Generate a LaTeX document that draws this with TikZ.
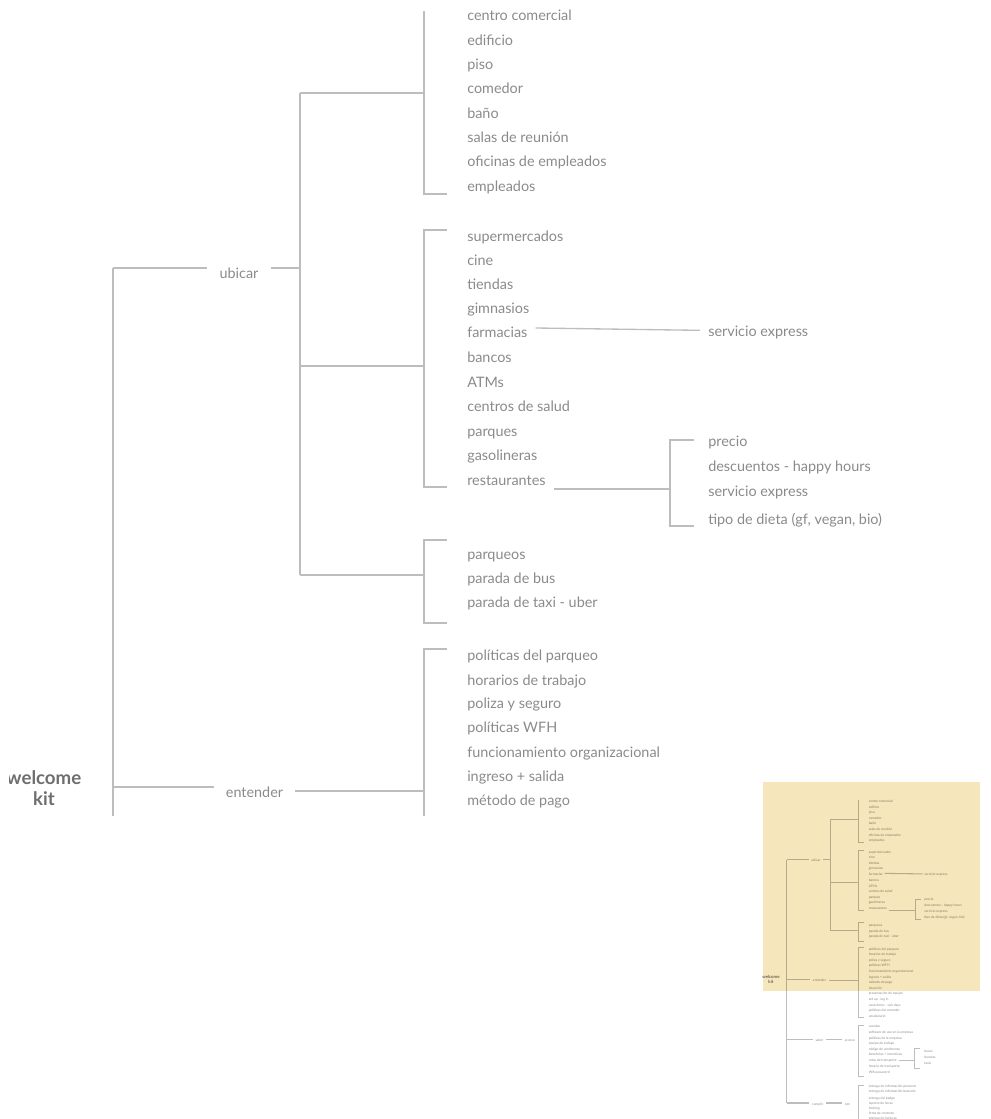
\documentclass[tikz,border=0pt]{standalone}
\usepackage{fontspec}
\setmainfont{Lato}
\definecolor{txt}{HTML}{8A8A8A}
\definecolor{ln}{HTML}{BDBDBD}
\definecolor{kitc}{HTML}{6E6E6E}
\definecolor{hl}{HTML}{F6E6BC}
\newif\ifwkfull
\tikzset{
  conn/.style={draw=ln, line width=1pt},
  item/.style={anchor=west, inner xsep=6pt, inner ysep=0pt, text height=9pt, text depth=1pt, font=\fontsize{10.8}{13}\selectfont, text=txt},
  lvl/.style={inner xsep=9pt, inner ysep=0pt, text height=9pt, text depth=1pt, font=\fontsize{10.8}{13}\selectfont, text=txt},
  rootn/.style={align=center, inner sep=0pt, font=\bfseries\fontsize{14}{15.75}\selectfont, text=kitc}
}
\newcommand{\wkitem}[3]{\node[item] (#1) at (459,#2) {#3};}
\newcommand{\wksub}[3]{\node[item] (#1) at (700,#2) {#3};}
\newcommand{\wktree}{%
  \node[rootn] (root) at (44,788) {welcome\\kit};
  \coordinate (rt) at (113,268);
  \coordinate (rb) at (113,1322);
  \draw[conn] (rt) -- (rb);
  % ---- ubicar
  \node[lvl] (ubicar) at (239,273) {ubicar};
  \coordinate (ub) at (300,268);
  \draw[conn] (rt) -- (ubicar.west|-rt);
  \draw[conn] (ubicar.east|-ub) -- (ub);
  \coordinate (u1) at (300,93);
  \coordinate (u3) at (300,575);
  \draw[conn] (u1) -- (u3);
  \coordinate (g1c) at (424,93);
  \coordinate (g2c) at (424,366);
  \coordinate (g3c) at (424,575);
  \draw[conn] (u1) -- (g1c);
  \draw[conn] (ub|-g2c) -- (g2c);
  \draw[conn] (u3) -- (g3c);
  \draw[conn] (424,11) -- (424,194) -- (447,194);
  \draw[conn] (447,230) -- (424,230) -- (424,487) -- (447,487);
  \draw[conn] (447,540) -- (424,540) -- (424,623) -- (447,623);
  \wkitem{a1}{15}{centro comercial}
  \wkitem{a2}{40}{edificio}
  \wkitem{a3}{64}{piso}
  \wkitem{a4}{88}{comedor}
  \wkitem{a5}{113}{baño}
  \wkitem{a6}{137}{salas de reunión}
  \wkitem{a7}{161}{oficinas de empleados}
  \wkitem{a8}{186}{empleados}
  \wkitem{b1}{236}{supermercados}
  \wkitem{b2}{260}{cine}
  \wkitem{b3}{284}{tiendas}
  \wkitem{b4}{308}{gimnasios}
  \wkitem{farm}{332}{farmacias}
  \wkitem{b6}{357}{bancos}
  \wkitem{b7}{382}{ATMs}
  \wkitem{b8}{406}{centros de salud}
  \wkitem{b9}{431}{parques}
  \wkitem{b10}{455}{gasolineras}
  \wkitem{rest}{480}{restaurantes}
  \wkitem{c1}{554}{parqueos}
  \wkitem{c2}{578}{parada de bus}
  \wkitem{c3}{602}{parada de taxi - uber}
  % farmacias
  \wksub{fx}{331}{servicio express}
  \draw[conn] ([yshift=3pt]farm.east) -- ([yshift=0.5pt]fx.west);
  % restaurantes
  \coordinate (rj) at (670,489);
  \draw[conn] (rest.east|-rj) -- (rj);
  \draw[conn] (694,440) -- (670,440) -- (670,526) -- (694,526);
  \wksub{r1}{441}{precio}
  \wksub{r2}{466}{descuentos - happy hours}
  \wksub{r3}{491}{servicio express}
  \wksub{r4}{519}{tipo de dieta (gf, vegan, bio)}
  % ---- entender
  \node[lvl] (entender) at (254.5,792) {entender};
  \coordinate (en) at (113,787);
  \coordinate (g4c) at (424,791);
  \draw[conn] (en) -- (entender.west|-en);
  \draw[conn] (entender.east|-g4c) -- (g4c);
  \draw[conn] (447,649) -- (424,649) -- (424,952) -- (447,952);
  \wkitem{d1}{655}{políticas del parqueo}
  \wkitem{d2}{680}{horarios de trabajo}
  \wkitem{d3}{703}{poliza y seguro}
  \wkitem{d4}{727}{políticas WFH}
  \wkitem{d5}{752}{funcionamiento organizacional}
  \wkitem{d6}{776}{ingreso + salida}
  \wkitem{d7}{800}{método de pago}
  \ifwkfull
  \wkitem{d8}{824}{situación}
  \wkitem{d9}{849}{presentación de equipo}
  \wkitem{d10}{873}{set up - log in}
  \wkitem{d11}{897}{vacaciones - sick days}
  \wkitem{d12}{922}{políticas del comedor}
  \wkitem{d13}{946}{vocabulario}
  % ---- saber
  \node[lvl] (saber) at (254,1051) {saber};
  \node[lvl] (acceso) at (385,1051) {acceso};
  \coordinate (sa) at (113,1046);
  \draw[conn] (sa) -- (saber.west|-sa);
  \draw[conn] (saber.east|-sa) -- (acceso.west|-sa);
  \draw[conn] (447,988) -- (424,988) -- (424,1209) -- (447,1209);
  \wkitem{e1}{991}{cuentas}
  \wkitem{e2}{1015}{software de uso en la empresa}
  \wkitem{e3}{1040}{políticas de la empresa}
  \wkitem{e4}{1064}{equipo de trabajo}
  \wkitem{e5}{1089}{código de vestimenta}
  \wkitem{e6}{1113}{beneficios + incentivos}
  \wkitem{rutas}{1138}{rutas de transporte}
  \wkitem{e8}{1162}{horario de transporte}
  \wkitem{e9}{1187}{Wifi password}
  \coordinate (tj) at (667,1139);
  \draw[conn] (rutas.east|-tj) -- (tj);
  \draw[conn] (691,1085) -- (667,1085) -- (667,1172) -- (691,1172);
  \wksub{t1}{1100}{buses}
  \wksub{t2}{1125}{busetas}
  \wksub{t3}{1149}{taxis}
  % ---- cumplir
  \node[lvl] (cumplir) at (246,1327) {cumplir};
  \node[lvl] (con) at (375,1327) {con};
  \draw[conn] (rb) -- (cumplir.west|-rb);
  \draw[conn] (cumplir.east|-rb) -- (con.west|-rb);
  \draw[conn] (447,1245) -- (424,1245) -- (424,1430);
  \wkitem{f1}{1248}{entrega de información personal}
  \wkitem{f2}{1271}{entrega de información bancaria}
  \wkitem{f3}{1300}{entrega del badge}
  \wkitem{f4}{1322}{reporte de horas}
  \wkitem{f5}{1343}{training}
  \wkitem{f6}{1368}{firma de contrato}
  \wkitem{f7}{1386}{entrega de facturas}
  \fi
}
\begin{document}
\begin{tikzpicture}[x=0.75pt,y=-0.75pt]
\useasboundingbox (0,0) rectangle (990,1119);
\begin{scope}
  \clip (9,0) rectangle (990,815);
  \wkfullfalse
  \wktree
\end{scope}
\begin{scope}
  \clip (760,782) rectangle (990,1119);
  \wkfulltrue
  \begin{scope}[shift={(760.8,797.6)}, scale=0.231, transform shape, name prefix=m-,
      conn/.style={draw=ln, line width=0.8pt}]
    \wktree
  \end{scope}
\end{scope}
\fill[hl, blend mode=multiply] (763,782) rectangle (980,991);
\end{tikzpicture}
\end{document}
